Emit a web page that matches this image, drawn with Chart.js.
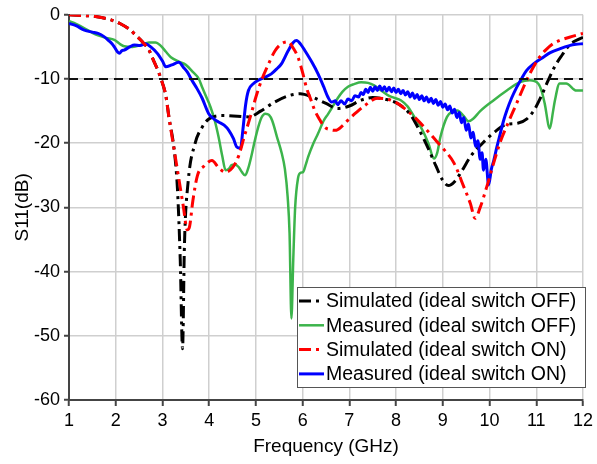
<!DOCTYPE html>
<html>
<head>
<meta charset="utf-8">
<script src="https://cdn.jsdelivr.net/npm/chart.js@4.4.1/dist/chart.umd.min.js"></script>
<style>
  body { margin: 0; background: #fff; }
  #wrap { width: 597px; height: 464px; }
</style>
</head>
<body>
<div id="wrap"><canvas id="myChart" width="597" height="464"></canvas></div>
<script>
// axis ticks
let xTicks = [1, 2, 3, 4, 5, 6, 7, 8, 9, 10, 11, 12]
let yTicks = [0, -10, -20, -30, -40, -50, -60]
let refLevel = -10

// series, [GHz, dB]
let simOff = [[1,0],[1.6,-0.3],[1.9,-0.8],[2.1,-1.4],[2.3,-2.3],[2.46,-3.4],[2.57,-4.2],[2.72,-5.6],[2.82,-7.3],[2.9,-8.6],
  [2.97,-10],[3.07,-12.5],[3.14,-16],[3.25,-21],[3.32,-27],[3.38,-38],[3.43,-52],
  [3.47,-36],[3.55,-26],[3.7,-20],[3.85,-17.5],[4.0,-16.2],[4.3,-15.7],[4.6,-15.8],[4.85,-15.9],[5.1,-15],[5.4,-13.6],
  [5.7,-12.6],[5.95,-12.3],[6.2,-12.8],[6.5,-13.8],[6.75,-14.6],[7.0,-14.2],[7.25,-13.3],[7.5,-12.9],[7.8,-13.2],[8.05,-13.9],
  [8.3,-15.5],[8.5,-18],[8.7,-21],[8.85,-23.5],[9.0,-25.8],[9.12,-26.6],[9.25,-26],[9.4,-24.4],[9.6,-22],[9.85,-20],
  [10.1,-18.3],[10.35,-17.1],[10.6,-16.9],[10.8,-16.2],[10.95,-14.9],[11.1,-12.8],[11.25,-10.3],[11.4,-8],[11.55,-6.3],
  [11.7,-4.8],[11.85,-4],[12,-3.5]]

let measOff = [[1,-1],[1.15,-1.4],[1.33,-2.1],[1.5,-2.8],[1.62,-3.2],[1.8,-3.6],[1.97,-3.9],[2.1,-4.6],[2.18,-4.9],[2.36,-5],
  [2.54,-4.7],[2.71,-4.3],[2.85,-4.3],[2.96,-4.8],[3.08,-5.8],[3.18,-6.6],[3.35,-7.3],[3.5,-7.8],[3.65,-8.9],[3.78,-10],
  [3.85,-11.3],[3.95,-13],[4.03,-14.4],[4.12,-16.5],[4.2,-19],[4.28,-22],[4.35,-24.2],[4.42,-24],[4.48,-23.4],[4.55,-23.3],
  [4.63,-23.7],[4.7,-24.5],[4.77,-25],[4.84,-23.8],[4.9,-22.1],[4.97,-19.8],[5.05,-17.5],[5.12,-16],[5.2,-15.4],[5.28,-15.6],
  [5.35,-16.5],[5.45,-19],[5.55,-21.5],[5.62,-24],[5.68,-28.4],[5.72,-34],[5.76,-47.3],[5.8,-38],[5.84,-30],[5.9,-25.5],
  [5.96,-24.6],[6.01,-24.5],[6.06,-23.5],[6.12,-22.1],[6.22,-20.2],[6.33,-18.5],[6.45,-16.5],[6.54,-15.5],[6.65,-14.2],
  [6.75,-13],[6.85,-12],[6.97,-11.2],[7.1,-10.8],[7.25,-10.5],[7.4,-10.6],[7.53,-11],[7.68,-11.8],[7.82,-12.5],[7.95,-12.9],
  [8.1,-13.3],[8.25,-14.3],[8.39,-15.9],[8.5,-17.1],[8.6,-18.5],[8.7,-20.2],[8.81,-22.4],[8.88,-21.5],[8.95,-19],[9.09,-15.9],
  [9.2,-15.1],[9.31,-14.9],[9.45,-15.8],[9.55,-16.6],[9.65,-16.2],[9.8,-15],[10.09,-13.3],[10.37,-11.8],[10.65,-10.5],
  [10.86,-10.2],[11.04,-10.7],[11.12,-12],[11.18,-13.8],[11.29,-17.7],[11.36,-15],[11.4,-13.3],[11.5,-10.7],[11.64,-10.7],
  [11.86,-11.8],[12,-11.8]]

let simOn = [[1,0],[1.6,-0.3],[1.9,-0.8],[2.1,-1.4],[2.3,-2.3],[2.46,-3.4],[2.57,-4.2],[2.72,-5.6],[2.82,-7.3],[2.9,-8.6],
  [2.97,-10],[3.07,-12.5],[3.14,-16],[3.25,-21],[3.35,-25.5],[3.45,-30],[3.53,-33.5],[3.58,-33],[3.65,-29],[3.75,-25],
  [3.9,-23.5],[4.06,-22.7],[4.2,-23.8],[4.35,-24.5],[4.5,-23.8],[4.63,-22],[4.75,-19],[4.9,-15.4],[5.0,-12.8],[5.12,-10.2],
  [5.25,-8],[5.41,-5.6],[5.55,-4.5],[5.69,-4.2],[5.8,-5.2],[5.9,-6.6],[6.0,-9],[6.08,-11.3],[6.18,-13.3],[6.26,-14.9],
  [6.37,-16.4],[6.47,-17.5],[6.6,-17.9],[6.7,-18],[6.85,-17.3],[6.97,-16.4],[7.15,-15.2],[7.32,-14.2],[7.6,-13],[7.8,-13.1],
  [8.03,-13.8],[8.25,-15],[8.46,-16.4],[8.7,-18.3],[8.88,-19.8],[9.05,-21.2],[9.24,-23.1],[9.45,-26.8],[9.59,-29.4],
  [9.69,-31.7],[9.8,-30],[9.94,-26.8],[10.08,-23.3],[10.22,-20],[10.4,-16.8],[10.58,-13.8],[10.72,-11.4],[10.86,-9.2],
  [11.07,-6.6],[11.2,-5.5],[11.36,-4.5],[11.5,-4],[11.71,-3.5],[11.85,-3.2],[12,-2.9]]

let measOn = [[1,-1.35],[1.15,-1.7],[1.33,-2.4],[1.5,-2.7],[1.62,-2.9],[1.75,-3.4],[1.83,-3.9],[1.92,-4.5],[1.97,-5],[2.04,-5.8],
  [2.08,-6],[2.13,-5.6],[2.18,-5.5],[2.3,-5],[2.4,-4.7],[2.52,-4.8],[2.64,-4.5],[2.75,-5],[2.89,-6],[3.0,-7.2],[3.07,-8.1],
  [3.2,-7.8],[3.35,-7.4],[3.45,-8.2],[3.53,-8.9],[3.63,-10.2],[3.74,-11.5],[3.85,-13],[3.99,-15.4],[4.1,-16.2],[4.2,-16.7],
  [4.32,-17.2],[4.42,-18],[4.52,-19.3],[4.59,-20.6],[4.67,-20.8],[4.72,-18],[4.78,-14],[4.84,-11.8],[4.95,-10.7],[5.05,-10.2],
  [5.2,-9.7],[5.33,-9.2],[5.45,-8.4],[5.55,-7.6],[5.69,-5.6],[5.8,-4.3],[5.87,-4],[5.96,-4.6],[6.05,-5.6],[6.2,-7.4],
  [6.33,-9.2],[6.45,-11.2],[6.54,-12.8],[6.62,-13.6],[6.7,-13.4],[6.75,-14],[6.82,-13.4],[6.9,-13.9],[6.97,-13.1],[7.05,-13.4],
  [7.12,-12.6],[7.2,-12.8],[7.25,-12.1],[7.3,-12.4],[7.35,-11.6],[7.4,-12.1],[7.45,-11.3],[7.5,-11.9],[7.55,-11.2],[7.6,-11.8],
  [7.65,-11.1],[7.7,-11.8],[7.75,-11.2],[7.8,-11.9],[7.85,-11.3],[7.9,-12.0],[7.95,-11.4],[8.0,-12.1],[8.05,-11.6],[8.1,-12.3],
  [8.15,-11.8],[8.2,-12.5],[8.25,-12.0],[8.3,-12.8],[8.35,-12.2],[8.4,-13.0],[8.45,-12.4],[8.5,-13.2],[8.55,-12.6],[8.6,-13.4],
  [8.65,-12.8],[8.7,-13.6],[8.75,-13.0],[8.8,-13.8],[8.85,-13.2],[8.9,-14.1],[8.95,-13.5],[9.0,-14.4],[9.05,-13.9],[9.1,-14.8],
  [9.15,-14.2],[9.2,-15.3],[9.25,-14.7],[9.3,-16.0],[9.35,-15.2],[9.4,-16.8],[9.45,-16.0],[9.5,-18.0],[9.55,-17.0],[9.6,-19.2],
  [9.65,-18.3],[9.7,-20.5],[9.75,-19.6],[9.8,-22.5],[9.84,-21.5],[9.87,-24.2],[9.92,-22.5],[9.98,-26.5],
  [10.04,-24],[10.09,-22.7],[10.16,-20.5],[10.23,-18.5],[10.3,-16.5],[10.37,-14.9],[10.47,-13],[10.58,-11.3],[10.68,-10],
  [10.79,-8.7],[10.95,-7.6],[11.15,-6.6],[11.3,-5.9],[11.5,-5.3],[11.71,-4.8],[11.85,-4.6],[12,-4.5]]

let toPts = arr => arr.map(p => ({ x: p[0], y: p[1] }))
let font = 'Liberation Sans, Arial, sans-serif'

// legend drawn inside the plot, bottom right
let boxLegend = {
  id: 'boxLegend',
  afterDraw(chart) {
    let c = chart.ctx
    let sets = chart.data.datasets.filter(d => !d.noLegend)
    let x0 = 297, y0 = 287, w = 288, h = 100
    c.save()
    c.fillStyle = '#fff'
    c.fillRect(x0, y0, w, h)
    c.strokeStyle = '#555'
    c.lineWidth = 1
    c.strokeRect(x0 + 0.5, y0 + 0.5, w, h)
    c.font = '19.5px ' + font
    c.textBaseline = 'middle'
    sets.forEach((d, i) => {
      let y = y0 + 14 + i * 24.3
      c.strokeStyle = d.borderColor
      c.lineWidth = d.borderWidth
      c.setLineDash(d.borderDash || [])
      c.beginPath()
      c.moveTo(x0 + 2, y)
      c.lineTo(x0 + 27, y)
      c.stroke()
      c.setLineDash([])
      c.fillStyle = '#000'
      c.fillText(d.label, x0 + 29, y + 1)
    })
    c.restore()
  }
}

new Chart(document.getElementById('myChart'), {
  type: 'line',
  data: {
    datasets: [
      { label: 'Simulated (ideal switch OFF)', data: toPts(simOff), borderColor: '#000', borderWidth: 3, borderDash: [12, 5, 3, 5], order: 3 },
      { label: 'Measured (ideal switch OFF)', data: toPts(measOff), borderColor: '#3cb44b', borderWidth: 2.5, order: 4 },
      { label: 'Simulated (ideal switch ON)', data: toPts(simOn), borderColor: '#ff0000', borderWidth: 3, borderDash: [12, 5, 3, 5], order: 1 },
      { label: 'Measured (ideal switch ON)', data: toPts(measOn), borderColor: '#0000ff', borderWidth: 3, order: 2 },
      { label: '', noLegend: true, data: [{ x: xTicks[0], y: refLevel }, { x: xTicks[xTicks.length - 1], y: refLevel }],
        borderColor: '#111', borderWidth: 2, borderDash: [9, 6], order: 0 }
    ]
  },
  plugins: [boxLegend],
  options: {
    responsive: false,
    animation: false,
    layout: { padding: { left: 0, top: 14, right: 10, bottom: 0 } },
    elements: { point: { radius: 0 }, line: { cubicInterpolationMode: 'monotone' } },
    plugins: { legend: { display: false }, tooltip: { enabled: false } },
    scales: {
      x: {
        type: 'linear', min: 1, max: 12,
        afterBuildTicks: s => { s.ticks = xTicks.map(v => ({ value: v })) },
        afterFit: s => { s.height = 64 },
        ticks: { color: '#000', font: { family: font, size: 18 }, padding: 4 },
        grid: { color: '#cfcfcf', lineWidth: 1.5, tickLength: 6, tickColor: '#444', tickWidth: 2 },
        border: { color: '#444', width: 2 },
        title: { display: true, text: 'Frequency (GHz)', color: '#000', font: { family: font, size: 19 }, padding: { top: 0, bottom: 6 } }
      },
      y: {
        min: -60, max: 0,
        afterBuildTicks: s => { s.ticks = yTicks.map(v => ({ value: v })) },
        afterFit: s => { s.width = 69 },
        ticks: { color: '#000', font: { family: font, size: 18 }, padding: 4 },
        grid: { color: '#cfcfcf', lineWidth: 1.5, tickLength: 5, tickColor: '#444', tickWidth: 2 },
        border: { color: '#444', width: 2 },
        title: { display: true, text: 'S11(dB)', color: '#000', font: { family: font, size: 19 }, padding: { top: 11, bottom: 0 } }
      }
    }
  }
})
</script>
</body>
</html>
